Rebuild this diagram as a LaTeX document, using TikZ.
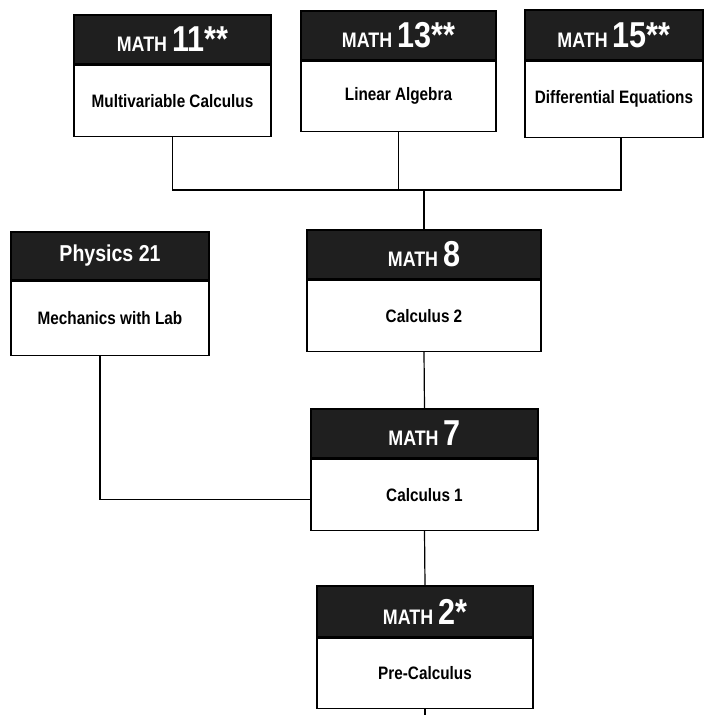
\documentclass[tikz,border=0pt]{standalone}
\usepackage{fontspec}
\setmainfont{Liberation Sans}[FakeStretch=0.85]
\newcommand{\mathhd}[1]{{\fontsize{21}{21}\selectfont MATH }{\fontsize{36}{36}\selectfont #1}}
\tikzset{
  head/.style={draw, line width=1.2pt, fill=black!88, text=white, font=\bfseries, inner sep=0pt},
  body/.style={draw, line width=1.2pt, fill=white, font=\bfseries\fontsize{18}{20}\selectfont, inner sep=0pt, anchor=north},
  link/.style={line width=1.2pt}
}
\begin{document}
\begin{tikzpicture}[x=1pt,y=-1pt]
    \useasboundingbox (0,0) rectangle (707,715);
    % top row
    \node[head, minimum width=197, minimum height=49] (m11) at (172.5,39.5) {\mathhd{11**}};
    \node[body, minimum width=197, minimum height=71] (m11b) at (m11.south) {Multivariable Calculus};
    \node[head, minimum width=195, minimum height=49] (m13) at (398.5,35.5) {\mathhd{13**}};
    \node[body, minimum width=195, minimum height=70] (m13b) at (m13.south) {Linear Algebra};
    \node[head, minimum width=178, minimum height=50] (m15) at (614,35) {\mathhd{15**}};
    \node[body, minimum width=178, minimum height=76] (m15b) at (m15.south) {Differential Equations};
    % middle row
    \node[head, minimum width=198, minimum height=48, font=\bfseries\fontsize{23}{23}\selectfont] (ph) at (110,256) {Physics 21};
    \node[body, minimum width=198, minimum height=74] (phb) at (ph.south) {Mechanics with Lab};
    \node[head, minimum width=234, minimum height=49] (m8) at (424,254.5) {\mathhd{8}};
    \node[body, minimum width=234, minimum height=71] (m8b) at (m8.south) {Calculus 2};
    % lower column
    \node[head, minimum width=227, minimum height=49] (m7) at (424.5,433.5) {\mathhd{7}};
    \node[body, minimum width=227, minimum height=71] (m7b) at (m7.south) {Calculus 1};
    \node[head, minimum width=216, minimum height=51] (m2) at (425,611.5) {\mathhd{2*}};
    \node[body, minimum width=216, minimum height=70] (m2b) at (m2.south) {Pre-Calculus};
    % connectors
    \coordinate (bus) at (424,190);
    \coordinate (tail) at (425,715);
    \draw[link] (m11b.south) |- (bus);
    \draw[link] ([xshift=7pt]m15b.south) |- (bus);
    \draw[link] (m13b.south) -- (m13b.south |- bus);
    \draw[link] (bus) -- (m8.north);
    \draw[link] (m8b.south) -- (m7.north);
    \draw[link] (m7b.south) -- (m2.north);
    \draw[link] ([xshift=-10pt]phb.south) |- ([yshift=-5pt]m7b.west);
    \draw[link] (m2b.south) -- (tail);
\end{tikzpicture}
\end{document}
